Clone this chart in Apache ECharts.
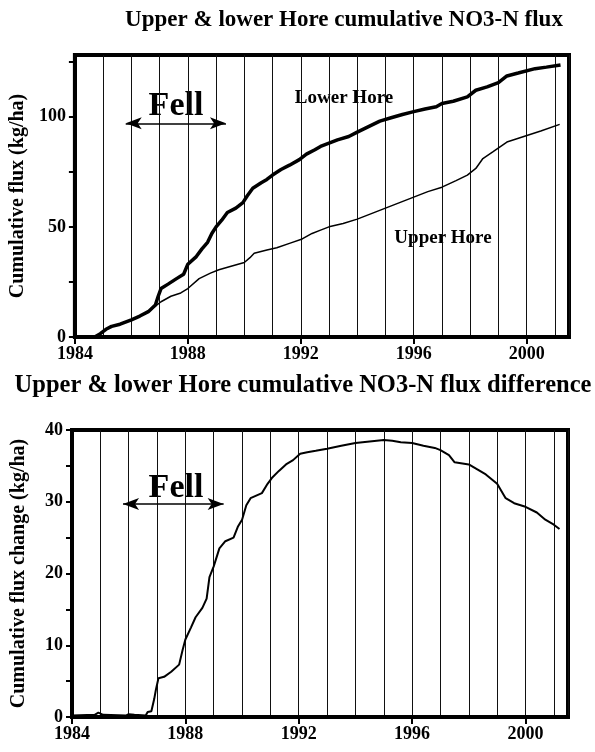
<!DOCTYPE html>
<html>
<head>
<meta charset="utf-8">
<script src="https://cdn.jsdelivr.net/npm/echarts@6/dist/echarts.min.js"></script>
<style>html,body{margin:0;padding:0;background:#fff}#c{width:595px;height:752px}</style>
</head>
<body>
<div id="c"></div>
<script>
// ---- data (years as decimal, values kg/ha) ----
var lowerHore = [
[1984.70,0],[1984.9,1.5],[1985.1,3.5],[1985.3,4.8],[1985.6,5.8],[1986.0,7.8],[1986.3,9.5],[1986.6,11.5],
[1986.85,14.5],[1986.95,18.5],[1987.05,22],[1987.3,24],[1987.6,26.5],[1987.85,28.5],[1988.0,33],[1988.3,36.5],
[1988.5,40],[1988.7,43],[1988.85,47],[1989.0,50],[1989.2,53],[1989.4,56.5],[1989.7,58.5],[1989.95,61],
[1990.1,64],[1990.3,67.5],[1990.6,70],[1990.8,71.5],[1991.0,73.5],[1991.3,76],[1991.6,78],[1991.95,80.5],
[1992.2,83],[1992.5,85],[1992.7,86.5],[1993.0,88],[1993.3,89.5],[1993.7,91],[1994.0,93],[1994.4,95.5],
[1994.8,98],[1995.2,99.5],[1995.6,101],[1996.0,102.3],[1996.4,103.5],[1996.8,104.5],[1997.0,106],[1997.4,107],
[1997.9,109],[1998.2,112],[1998.6,113.5],[1999.0,115.5],[1999.3,118.5],[1999.7,119.8],[2000.3,121.8],[2000.7,122.5],
[2001.2,123.5]
];
var upperHore = [
[1984.70,0],[1984.9,1.5],[1985.1,3.5],[1985.3,4.8],[1985.6,5.8],[1986.0,7.8],[1986.3,9.5],[1986.6,11.5],
[1986.85,14.0],[1987.05,16],[1987.4,18.5],[1987.75,20],[1988.0,22],[1988.4,26.5],[1988.8,29],[1989.1,30.5],
[1989.5,32],[1990.0,33.8],[1990.2,36],[1990.35,38],[1990.8,39.5],[1991.15,40.5],[1991.6,42.5],[1992.05,44.5],
[1992.4,47],[1992.7,48.5],[1993.0,50],[1993.5,51.5],[1994.0,53.5],[1994.5,56],[1995.0,58.5],[1995.5,61],
[1996.0,63.5],[1996.5,66],[1997.0,68],[1997.5,71],[1997.9,73.5],[1998.2,76.5],[1998.45,81],[1998.8,84],
[1999.3,88.5],[1999.9,91],[2000.5,93.5],[2001.17,96.5]
];
var fluxDifference = [
[1984.0,0.2],[1984.8,0.3],[1984.93,0.6],[1985.1,0.3],[1985.9,0.2],[1986.0,0.4],[1986.2,0.3],[1986.6,0.2],
[1986.67,0.7],[1986.8,0.8],[1986.9,2.5],[1986.96,3.8],[1987.05,5.4],[1987.25,5.6],[1987.5,6.3],[1987.78,7.3],
[1987.9,9.3],[1988.0,10.8],[1988.2,12.5],[1988.36,13.9],[1988.6,15.2],[1988.75,16.5],[1988.85,19.5],[1989.0,21],
[1989.2,23.5],[1989.41,24.5],[1989.7,25],[1989.85,26.5],[1990.0,27.5],[1990.15,29.5],[1990.3,30.5],[1990.7,31.2],
[1990.9,32.5],[1991.05,33.3],[1991.3,34.3],[1991.55,35.2],[1991.8,35.8],[1992.05,36.7],[1992.3,36.9],[1992.6,37.1],
[1993.0,37.4],[1993.5,37.8],[1994.0,38.2],[1994.5,38.4],[1995.0,38.6],[1995.3,38.5],[1995.6,38.3],[1996.0,38.2],
[1996.4,37.8],[1996.8,37.5],[1997.0,37.2],[1997.3,36.5],[1997.5,35.5],[1998.0,35.2],[1998.3,34.5],[1998.6,33.8],
[1999.0,32.5],[1999.3,30.5],[1999.6,29.8],[2000.0,29.3],[2000.4,28.5],[2000.7,27.5],[2001.0,26.8],[2001.2,26.2]
];
var yearLabels = [1984, 1988, 1992, 1996, 2000];
var topYTicks = [0, 25, 50, 75, 100, 125];
var topYLabels = [0, 50, 100];
var botYTicks = [0, 5, 10, 15, 20, 25, 30, 35, 40];
var botYLabels = [0, 10, 20, 30, 40];
var fellPeriod = [1985.8, 1989.35];

var FONT = '"Liberation Serif", "Times New Roman", serif';
var labelStyle = {color:'#000', fontFamily:FONT, fontWeight:'bold', fontSize:18};

function gridAxisX(gridIndex) {
  return {type:'value', gridIndex:gridIndex, min:1984, max:2001.5, interval:1,
    axisLine:{show:false}, axisTick:{show:false}, axisLabel:{show:false},
    splitLine:{show:true, lineStyle:{color:'#111', width:1}}};
}
function mainAxisX(gridIndex) {
  return {type:'value', gridIndex:gridIndex, min:1984, max:2001.5, interval:1, position:'bottom',
    axisLine:{show:true, onZero:false, lineStyle:{color:'#000', width:4}},
    axisTick:{show:true, customValues:yearLabels, length:7, lineStyle:{color:'#000', width:2}},
    axisLabel:Object.assign({customValues:yearLabels, margin:8,
      formatter:function(v){ return String(Math.round(v)); }}, labelStyle),
    splitLine:{show:false}};
}

var chart = echarts.init(document.getElementById('c'), null, {renderer:'canvas'});
chart.setOption({
  animation:false,
  backgroundColor:'#fff',
  grid:[
    {left:74, right:26, top:55, height:282, show:true, borderColor:'#000', borderWidth:4},
    {left:72, right:27, top:430, height:287, show:true, borderColor:'#000', borderWidth:4}
  ],
  xAxis:[gridAxisX(0), mainAxisX(0), gridAxisX(1), mainAxisX(1)],
  yAxis:[
    {type:'value', gridIndex:0, min:0, max:128,
      name:'Cumulative flux (kg/ha)', nameLocation:'middle', nameRotate:90, nameGap:45,
      nameTextStyle:{color:'#000', fontFamily:FONT, fontWeight:'bold', fontSize:20},
      axisLine:{show:true, lineStyle:{color:'#000', width:4}},
      axisTick:{show:true, customValues:topYTicks, length:6, lineStyle:{color:'#000', width:2}},
      axisLabel:Object.assign({customValues:topYLabels, margin:9}, labelStyle),
      splitLine:{show:false}},
    {type:'value', gridIndex:1, min:0, max:40,
      name:'Cumulative flux change (kg/ha)', nameLocation:'middle', nameRotate:90, nameGap:43,
      nameTextStyle:{color:'#000', fontFamily:FONT, fontWeight:'bold', fontSize:20},
      axisLine:{show:true, lineStyle:{color:'#000', width:4}},
      axisTick:{show:true, customValues:botYTicks, length:6, lineStyle:{color:'#000', width:2}},
      axisLabel:Object.assign({customValues:botYLabels, margin:9}, labelStyle),
      splitLine:{show:false}}
  ],
  series:[
    {type:'line', name:'Lower Hore', xAxisIndex:1, yAxisIndex:0, data:lowerHore, showSymbol:false,
      lineStyle:{color:'#000', width:3.5}, silent:true,
      markLine:{silent:true, symbol:['arrow','arrow'], symbolSize:[9,16], label:{show:false},
        lineStyle:{color:'#000', width:1.5, type:'solid'},
        data:[[{coord:[fellPeriod[0],97]},{coord:[fellPeriod[1],97]}]]}},
    {type:'line', name:'Upper Hore', xAxisIndex:1, yAxisIndex:0, data:upperHore, showSymbol:false,
      lineStyle:{color:'#000', width:1.5}, silent:true},
    {type:'line', name:'Difference', xAxisIndex:3, yAxisIndex:1, data:fluxDifference, showSymbol:false,
      lineStyle:{color:'#000', width:2}, silent:true,
      markLine:{silent:true, symbol:['arrow','arrow'], symbolSize:[9,16], label:{show:false},
        lineStyle:{color:'#000', width:1.5, type:'solid'},
        data:[[{coord:[fellPeriod[0],29.7]},{coord:[fellPeriod[1],29.7]}]]}}
  ],
  graphic:[
    {type:'text', x:344, y:20, style:{text:'Upper & lower Hore cumulative NO3-N flux', fill:'#000',
      font:'bold 23px ' + FONT, align:'center', verticalAlign:'middle', textAlign:'center', textVerticalAlign:'middle'}},
    {type:'text', x:303, y:386, style:{text:'Upper & lower Hore cumulative NO3-N flux difference', fill:'#000',
      font:'bold 24.5px ' + FONT, align:'center', verticalAlign:'middle', textAlign:'center', textVerticalAlign:'middle'}},
    {type:'text', x:176, y:106, style:{text:'Fell', fill:'#000',
      font:'bold 34px ' + FONT, align:'center', verticalAlign:'middle', textAlign:'center', textVerticalAlign:'middle'}},
    {type:'text', x:176, y:488, style:{text:'Fell', fill:'#000',
      font:'bold 34px ' + FONT, align:'center', verticalAlign:'middle', textAlign:'center', textVerticalAlign:'middle'}},
    {type:'text', x:344, y:98, style:{text:'Lower Hore', fill:'#000',
      font:'bold 19px ' + FONT, align:'center', verticalAlign:'middle', textAlign:'center', textVerticalAlign:'middle'}},
    {type:'text', x:443, y:238, style:{text:'Upper Hore', fill:'#000',
      font:'bold 19px ' + FONT, align:'center', verticalAlign:'middle', textAlign:'center', textVerticalAlign:'middle'}}
  ]
});
</script>
</body>
</html>
